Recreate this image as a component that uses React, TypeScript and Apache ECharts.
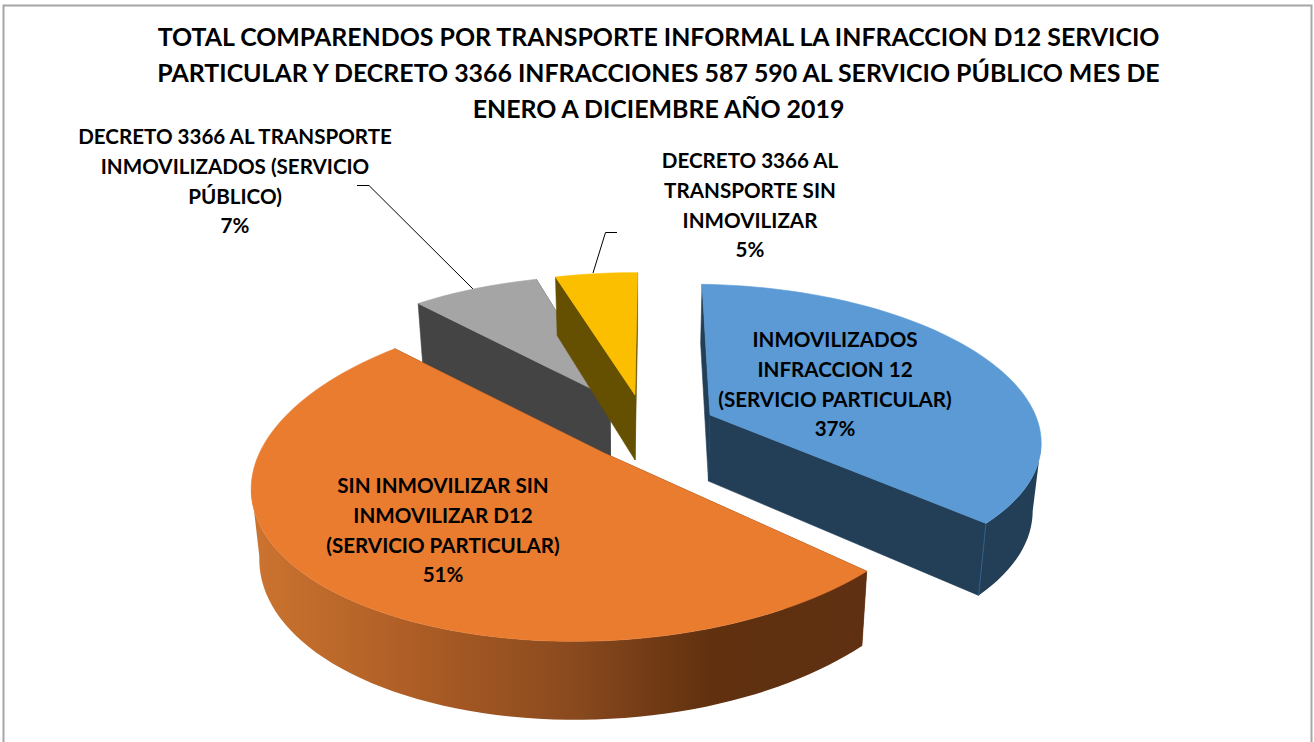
import React, { useEffect, useRef } from "react";
import * as echarts from "echarts";

// ---- data ----
const titleLines = [
  "TOTAL COMPARENDOS POR TRANSPORTE INFORMAL LA INFRACCION D12 SERVICIO",
  "PARTICULAR Y DECRETO 3366 INFRACCIONES 587 590 AL SERVICIO PÚBLICO MES DE",
  "ENERO A DICIEMBRE AÑO 2019",
];
const sliceNames = [
  "INMOVILIZADOS\nINFRACCION 12\n(SERVICIO PARTICULAR)",
  "SIN INMOVILIZAR SIN\nINMOVILIZAR D12\n(SERVICIO PARTICULAR)",
  "DECRETO 3366 AL TRANSPORTE\nINMOVILIZADOS (SERVICIO\nPÚBLICO)",
  "DECRETO 3366 AL\nTRANSPORTE SIN\nINMOVILIZAR",
];
const sliceValues = [36.9, 50.8, 7.2, 4.6]; // percent of the full circle

// ---- styles and layout ----
const topColors = ["#5b9ad5", "#ea7c30", "#a5a5a5", "#fbbf00"];
const wallColors = ["#233f57", "#5f3112", "#444444", "#654f00"];
const apexes = [[710, 415], [604, 453], [610, 398], [635, 395]]; // exploded slice tips on screen
const radii = [350, 338, 333, 334];
const bulges = [-18, 32, 0, 0];
const bulgePeaks = [67, 205, 330, 350]; // degrees clockwise from the top
const angleNudges = [0, 2, 3, 2.3]; // degrees, the exploded slices sit slightly rotated
const labelCentres = [[835, 324.5], [443, 470.5], [235, 121.5], [750, 145.5]];
const drawOrder = [2, 3, 0, 1];
const FONT = "Lato";

// perspective of the pie plane
const VX = 636, HORIZON = -800, CAM = 1250, DEPTH = 2800, THICK = 68, SHRINK = 0.021;
const unproject = (sx: number, sy: number) => {
  const f = (sy - HORIZON) / CAM;
  return [(sx - VX) / f, DEPTH * (1 - 1 / f)];
};
const top = (X: number, Y: number) => {
  const f = DEPTH / (DEPTH - Y);
  return [VX + X * f, HORIZON + CAM * f];
};
const bottom = (X: number, Y: number) => {
  const f = DEPTH / (DEPTH - Y);
  return [VX + X * f * (1 - SHRINK), HORIZON + (CAM + THICK) * f];
};

const total = 100;
const cumulative = sliceValues.map((_, i) =>
  sliceValues.slice(0, i).reduce((a, b) => a + b, 0),
);

const renderSlice = (params: any, api: any) => {
  const i = api.value(1);
  const nudge = (angleNudges[i] * Math.PI) / 180;
  const a0 = (cumulative[i] / total) * Math.PI * 2 + nudge;
  const a1 = a0 + (api.value(0) / total) * Math.PI * 2;
  const peak = (bulgePeaks[i] * Math.PI) / 180;
  const [ax, ay] = unproject(apexes[i][0], apexes[i][1]);
  const world: number[][] = [];
  const n = Math.max(6, Math.ceil(((a1 - a0) * 180) / Math.PI / 2));
  for (let k = 0; k <= n; k++) {
    const t = a0 + ((a1 - a0) * k) / n;
    const r = radii[i] + bulges[i] * Math.cos(t - peak) ** 2;
    world.push([ax + r * Math.sin(t), ay - r * Math.cos(t)]);
  }
  const topArc = world.map((p) => top(p[0], p[1]));
  const botArc = world.map((p) => bottom(p[0], p[1]));
  const apexT = top(ax, ay);
  const apexB = bottom(ax, ay);
  const wall = i === 1
    ? new echarts.graphic.LinearGradient(0, 0, 1, 0, [
        { offset: 0, color: "#cc7430" },
        { offset: 0.28, color: "#ab5c25" },
        { offset: 0.52, color: "#8a4a1e" },
        { offset: 0.75, color: "#60300f" },
        { offset: 1, color: "#5f3112" },
      ])
    : wallColors[i];
  const wallA = [apexT, topArc[0], botArc[0], apexB];
  const wallB = [apexT, topArc[n], botArc[n], apexB];
  const walls = topArc[0][1] < topArc[n][1] ? [wallA, wallB] : [wallB, wallA];
  const poly = (points: number[][], fill: any, stroke?: string) => ({
    type: "polygon",
    shape: { points },
    style: { fill, stroke: stroke || fill, lineWidth: stroke ? 0.6 : 0 },
  });
  // only the part of the rim that faces the viewer: where the arc runs right to left
  let lo = -1, hi = -1;
  for (let k = 0; k < n; k++) {
    if (topArc[k + 1][0] < topArc[k][0]) {
      if (lo < 0) lo = k;
      hi = k + 1;
    }
  }
  const rim = lo < 0
    ? []
    : [poly([...topArc.slice(lo, hi + 1), ...botArc.slice(lo, hi + 1).reverse()], wall)];
  const children: any[] = [
    ...walls.map((w) => poly(w, wallColors[i], wallColors[i])),
    ...rim,
    poly([apexT, ...topArc], topColors[i], topColors[i]),
  ];
  if (i === 0) {
    children.splice(children.length - 1, 0, {
      type: "line",
      shape: { x1: topArc[n][0], y1: topArc[n][1], x2: botArc[n][0], y2: botArc[n][1] },
      style: { stroke: "#2f5f8c", lineWidth: 1 },
    });
  }
  return { type: "group", children };
};

export default function App() {
  const ref = useRef<HTMLDivElement>(null);
  useEffect(() => {
    document.body.style.margin = "0";
    document.body.style.overflow = "hidden";
    const chart = echarts.init(ref.current!, undefined, { renderer: "svg" });
    chart.setOption({
      animation: false,
      backgroundColor: "#ffffff",
      title: {
        text: titleLines.join("\n"),
        left: 653.5,
        top: 13,
        textAlign: "center",
        textStyle: { fontFamily: FONT, fontWeight: "bold", fontSize: 24.9, lineHeight: 36, color: "#000" },
      },
      series: [
        {
          type: "custom",
          coordinateSystem: "none",
          silent: true,
          clip: false,
          renderItem: renderSlice,
          data: drawOrder.map((i) => [sliceValues[i], i]),
        },
      ],
      graphic: [
        {
          type: "polyline",
          silent: true,
          z: -1,
          shape: { points: [[3.5, 760], [3.5, 5.5], [1311.5, 5.5], [1311.5, 760]] },
          style: { fill: "none", stroke: "#a6a6a6", lineWidth: 2 },
        },
        {
          type: "polyline",
          shape: { points: [[357, 185.5], [369, 185.5], [473, 289]] },
          style: { fill: "none", stroke: "#000", lineWidth: 1 },
        },
        {
          type: "polyline",
          shape: { points: [[617, 232.5], [605.5, 232.5], [593, 273]] },
          style: { fill: "none", stroke: "#000", lineWidth: 1 },
        },
        ...sliceNames.map((name, i) => ({
          type: "text",
          z: 10,
          x: labelCentres[i][0],
          y: labelCentres[i][1],
          style: {
            text: `${name}\n${Math.round(sliceValues[i])}%`,
            fontFamily: FONT,
            fontWeight: "bold",
            fontSize: 20.6,
            lineHeight: 29.6,
            fill: "#000",
            align: "center",
            textAlign: "center",
          },
        })),
      ],
    });
    return () => chart.dispose();
  }, []);
  return <div ref={ref} style={{ position: "absolute", left: 0, top: 0, width: 1314, height: 742 }} />;
}
